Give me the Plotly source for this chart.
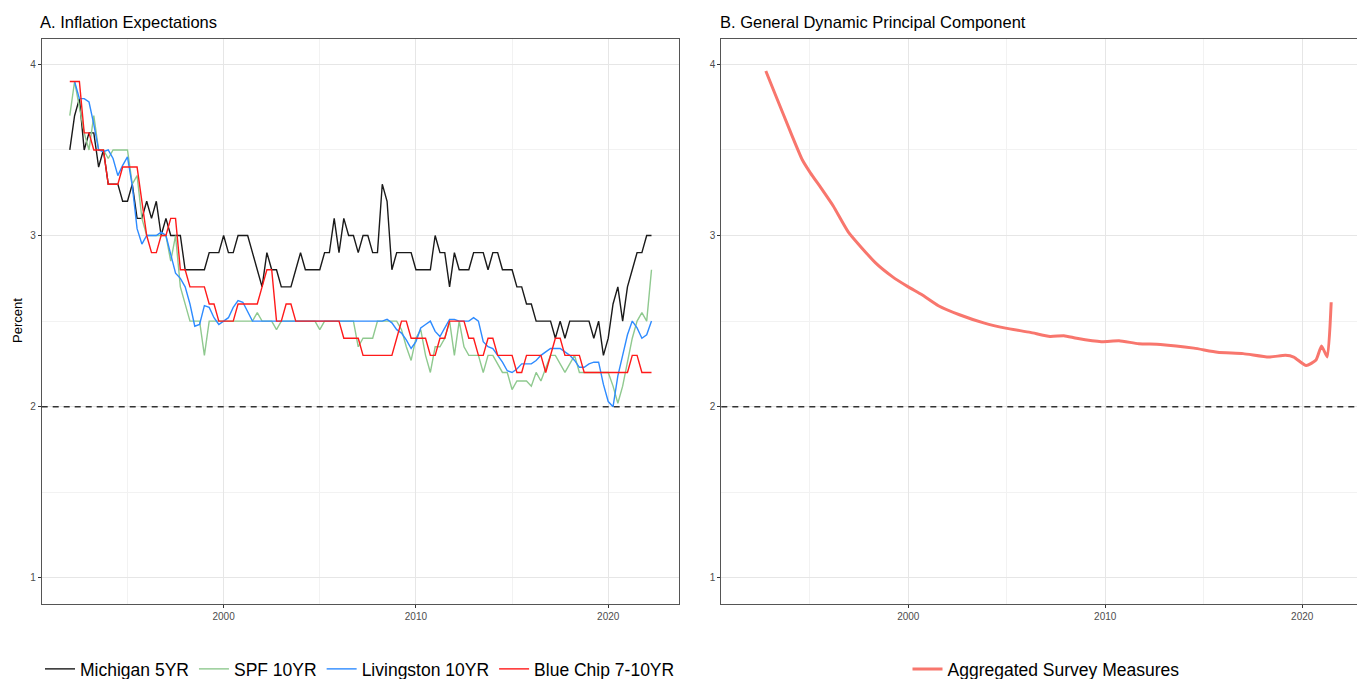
import plotly.graph_objects as go

# ---------------- data ----------------
michigan_start = 1992.0
michigan_5yr = [
    3.5, 3.7, 3.8, 3.5,   3.6, 3.6, 3.4, 3.5,   3.3, 3.3, 3.3, 3.2,   3.2, 3.3, 3.1, 3.1,
    3.2, 3.1, 3.2, 3.0,   3.1, 3.0, 3.0, 3.0,   2.8, 2.8, 2.8, 2.8,   2.8, 2.9, 2.9, 2.9,
    3.0, 2.9, 2.9, 3.0,   3.0, 3.0, 2.9, 2.8,   2.7, 2.9, 2.8, 2.8,   2.7, 2.7, 2.7, 2.8,
    2.9, 2.8, 2.8, 2.8,   2.8, 2.9, 2.9, 3.1,   2.9, 3.1, 3.0, 3.0,   2.9, 3.0, 3.0, 2.9,
    2.9, 3.3, 3.2, 2.8,   2.9, 2.9, 2.9, 2.9,   2.8, 2.8, 2.8, 2.8,   3.0, 2.9, 2.9, 2.7,
    2.9, 2.8, 2.8, 2.8,   2.9, 2.9, 2.9, 2.8,   2.9, 2.9, 2.8, 2.8,   2.8, 2.7, 2.7, 2.6,
    2.6, 2.5, 2.5, 2.5,   2.5, 2.4, 2.5, 2.4,   2.5, 2.5, 2.5, 2.5,   2.5, 2.4, 2.5, 2.3,
    2.4, 2.6, 2.7, 2.5,   2.7, 2.8, 2.9, 2.9,   3.0, 3.0,
]

spf_start = 1992.0
spf_10yr = [
    3.7, 3.9, 3.75, 3.6,  3.5, 3.7, 3.5, 3.5,   3.45, 3.5, 3.5, 3.5,  3.5, 3.3, 3.35, 3.1,
    3.0, 3.0, 3.0, 3.0,   3.0, 2.85, 3.0, 2.7,  2.6, 2.5, 2.5, 2.5,   2.3, 2.5, 2.5, 2.5,
    2.5, 2.5, 2.5, 2.5,   2.5, 2.5, 2.5, 2.55,  2.5, 2.5, 2.5, 2.45,  2.5, 2.5, 2.5, 2.5,
    2.5, 2.5, 2.5, 2.5,   2.45, 2.5, 2.5, 2.5,  2.5, 2.5, 2.5, 2.5,   2.35, 2.4, 2.4, 2.4,
    2.5, 2.5, 2.5, 2.5,   2.5, 2.45, 2.35, 2.27, 2.4, 2.45, 2.3, 2.2,  2.35, 2.35, 2.4, 2.5,
    2.3, 2.5, 2.35, 2.3,  2.3, 2.3, 2.2, 2.3,   2.3, 2.25, 2.2, 2.2,  2.1, 2.15, 2.15, 2.15,
    2.12, 2.2, 2.15, 2.22, 2.3, 2.3, 2.25, 2.2, 2.25, 2.3, 2.2, 2.2,  2.2, 2.2, 2.2, 2.2,
    2.2, 2.12, 2.02, 2.12, 2.25, 2.4, 2.5, 2.55, 2.5, 2.8,
]

livingston_start = 1992.25
livingston_10yr = [
    3.9, 3.8, 3.8,
    3.78, 3.65, 3.5, 3.49,  3.5, 3.45, 3.35, 3.41,  3.46, 3.29, 3.04, 2.95,
    3.0, 3.0, 3.0, 3.02,    3.0, 2.89, 2.78, 2.75,  2.7, 2.6, 2.47, 2.48,
    2.59, 2.58, 2.52, 2.48, 2.5, 2.52, 2.58, 2.62,  2.61, 2.55, 2.5, 2.5,
    2.5, 2.5, 2.5, 2.5,     2.5, 2.5, 2.5, 2.5,     2.5, 2.5, 2.5, 2.5,
    2.5, 2.5, 2.5, 2.5,     2.5, 2.5, 2.5, 2.5,     2.5, 2.5, 2.5, 2.5,
    2.5, 2.5, 2.51, 2.49,   2.45, 2.43, 2.39, 2.34, 2.38, 2.46, 2.48, 2.5,
    2.44, 2.41, 2.46, 2.51, 2.51, 2.5, 2.5, 2.5,    2.52, 2.5, 2.38, 2.35,
    2.34, 2.3, 2.26, 2.21,  2.2, 2.22, 2.25, 2.25,  2.25, 2.27, 2.3, 2.32,
    2.34, 2.34, 2.34, 2.32, 2.3, 2.27, 2.23, 2.23,  2.25, 2.26, 2.26, 2.13,
    2.03, 2.0, 2.18, 2.3,   2.42, 2.5, 2.46, 2.4,   2.42, 2.5,
]

bluechip_start = 1992.0
bluechip_7_10yr = [
    3.9, 3.9, 3.9, 3.6,   3.6, 3.5, 3.5, 3.5,   3.3, 3.3, 3.3, 3.4,   3.4, 3.4, 3.4, 3.2,
    3.0, 2.9, 2.9, 3.0,   3.0, 3.1, 3.1, 2.8,   2.8, 2.7, 2.7, 2.7,   2.7, 2.6, 2.6, 2.5,
    2.5, 2.5, 2.5, 2.6,   2.6, 2.6, 2.6, 2.6,   2.7, 2.8, 2.8, 2.5,   2.5, 2.6, 2.6, 2.5,
    2.5, 2.5, 2.5, 2.5,   2.5, 2.5, 2.5, 2.5,   2.5, 2.4, 2.4, 2.4,   2.4, 2.3, 2.3, 2.3,
    2.3, 2.3, 2.3, 2.3,   2.4, 2.5, 2.5, 2.4,   2.4, 2.4, 2.4, 2.3,   2.3, 2.4, 2.4, 2.5,
    2.5, 2.5, 2.5, 2.4,   2.4, 2.3, 2.3, 2.4,   2.4, 2.3, 2.3, 2.3,   2.3, 2.2, 2.2, 2.3,
    2.3, 2.3, 2.3, 2.2,   2.3, 2.4, 2.4, 2.3,   2.3, 2.3, 2.3, 2.2,   2.2, 2.2, 2.2, 2.2,
    2.2, 2.2, 2.2, 2.2,   2.2, 2.3, 2.3, 2.2,   2.2, 2.2,
]

agg_years = [1992.77, 1993.23, 1993.98, 1994.62, 1995.04, 1995.57, 1996.2, 1996.96,
             1998.34, 1999.19, 2000.0, 2000.68, 2001.53, 2002.6, 2003.87, 2004.94,
             2006.2, 2007.2, 2007.9, 2008.55, 2009.8, 2010.7, 2011.7, 2012.8,
             2014.5, 2015.7, 2017.0, 2018.3, 2019.15, 2019.57, 2020.2, 2020.7,
             2020.98, 2021.27, 2021.47]
agg_values = [3.961, 3.83, 3.617, 3.443, 3.365, 3.278, 3.171, 3.02,
              2.84, 2.76, 2.70, 2.655, 2.59, 2.537, 2.488, 2.459,
              2.434, 2.41, 2.415, 2.40, 2.38, 2.385, 2.368, 2.364,
              2.342, 2.318, 2.31, 2.29, 2.30, 2.29, 2.24, 2.273,
              2.355, 2.29, 2.61]

target_rate = 2.0
x_ticks = [2000, 2010, 2020]
x_minor = [1995, 2005, 2015]
y_ticks = [1, 2, 3, 4]
y_minor = [1.5, 2.5, 3.5]

left_names = ["Michigan 5YR", "SPF 10YR", "Livingston 10YR", "Blue Chip 7-10YR"]
left_colors = ["#1a1a1a", "#8fc98f", "#2e8bff", "#ff1a1a"]


def quarters(start, n):
    return [start + 0.25 * i for i in range(n)]


W, H = 1357, 679
FONT = "Liberation Sans, Arial, sans-serif"

fig = go.Figure()

left_series = [
    (michigan_start, michigan_5yr),
    (spf_start, spf_10yr),
    (livingston_start, livingston_10yr),
    (bluechip_start, bluechip_7_10yr),
]
for (start, vals), name, col in zip(left_series, left_names, left_colors):
    fig.add_trace(go.Scatter(
        x=quarters(start, len(vals)), y=vals, mode="lines", name=name,
        line=dict(color=col, width=1.4), xaxis="x", yaxis="y", legend="legend",
    ))

fig.add_trace(go.Scatter(
    x=agg_years, y=agg_values, mode="lines", name="Aggregated Survey Measures",
    line=dict(color="#f8766d", width=3, shape="spline", smoothing=0.5),
    xaxis="x2", yaxis="y2", legend="legend2",
))

grid_major = "#e6e6e6"
grid_minor = "#f2f2f2"
tickfont = dict(family=FONT, size=10, color="#4d4d4d")


def xaxis_cfg(domain, rng, anchor):
    return dict(
        domain=domain, range=rng, anchor=anchor,
        tickmode="array", tickvals=x_ticks, ticktext=[str(v) for v in x_ticks],
        ticks="outside", ticklen=3, tickcolor="#333333", tickwidth=1,
        tickfont=tickfont, showgrid=True, gridcolor=grid_major, gridwidth=1.2,
        minor=dict(tickmode="array", tickvals=x_minor, showgrid=True,
                   gridcolor=grid_minor, gridwidth=0.8, ticks=""),
        showline=True, linecolor="#555555", linewidth=1, mirror=True,
        zeroline=False, automargin=False, fixedrange=True,
    )


def yaxis_cfg(domain, anchor):
    return dict(
        domain=domain, range=[0.85, 4.15], anchor=anchor,
        tickmode="array", tickvals=y_ticks, ticktext=[str(v) for v in y_ticks],
        ticks="outside", ticklen=3, tickcolor="#333333", tickwidth=1,
        tickfont=tickfont, showgrid=True, gridcolor=grid_major, gridwidth=1.2,
        minor=dict(tickmode="array", tickvals=y_minor, showgrid=True,
                   gridcolor=grid_minor, gridwidth=0.8, ticks=""),
        showline=True, linecolor="#555555", linewidth=1, mirror=True,
        zeroline=False, automargin=False, fixedrange=True,
    )


ydom = [1 - 603.5 / H, 1 - 38.7 / H]
fig.update_layout(
    width=W, height=H,
    margin=dict(l=0, r=0, t=0, b=0, pad=0, autoexpand=False),
    paper_bgcolor="white", plot_bgcolor="white",
    font=dict(family=FONT, color="black"),
    xaxis=xaxis_cfg([41.7 / W, 679 / W], [1990.54, 2023.68], "y"),
    yaxis=yaxis_cfg(ydom, "x"),
    xaxis2=xaxis_cfg([721.3 / W, 1.0], [1990.51, 2022.78], "y2"),
    yaxis2=yaxis_cfg(ydom, "x2"),
    showlegend=True,
    legend=dict(orientation="h", x=360 / W, xanchor="center", y=1 - 669 / H,
                yanchor="middle", font=dict(family=FONT, size=17.5, color="black"),
                bgcolor="rgba(0,0,0,0)", itemwidth=30, traceorder="normal"),
    legend2=dict(orientation="h", x=1046 / W, xanchor="center", y=1 - 669 / H,
                 yanchor="middle", font=dict(family=FONT, size=17.5, color="black"),
                 bgcolor="rgba(0,0,0,0)", itemwidth=30),
)

for xr, yr in (("x domain", "y"), ("x2 domain", "y2")):
    fig.add_shape(type="line", xref=xr, yref=yr, x0=0, x1=1,
                  y0=target_rate, y1=target_rate,
                  line=dict(color="#333333", width=1.4, dash="6px,5px"))

fig.add_annotation(text="A. Inflation Expectations", xref="paper", yref="paper",
                   x=38 / W, y=1 - 22 / H, xanchor="left", yanchor="middle",
                   showarrow=False, font=dict(family=FONT, size=16.5, color="black"))
fig.add_annotation(text="B. General Dynamic Principal Component", xref="paper", yref="paper",
                   x=718 / W, y=1 - 22 / H, xanchor="left", yanchor="middle",
                   showarrow=False, font=dict(family=FONT, size=16.5, color="black"))
fig.add_annotation(text="Percent", xref="paper", yref="paper",
                   x=17 / W, y=1 - 321 / H, xanchor="center", yanchor="middle",
                   textangle=-90, showarrow=False,
                   font=dict(family=FONT, size=13, color="black"))

fig.write_html("out.html")
